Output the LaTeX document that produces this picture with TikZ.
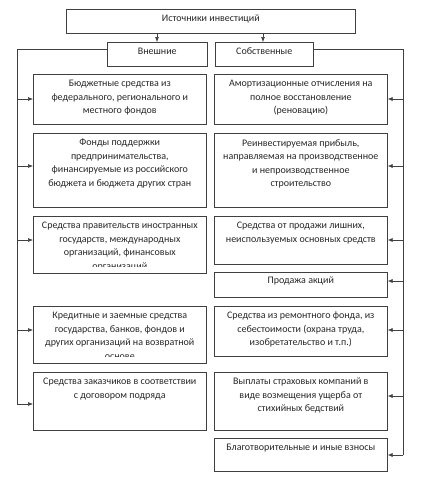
\documentclass[tikz,border=0pt]{standalone}
\usepackage{fontspec}
\setmainfont{Carlito}
\usetikzlibrary{arrows.meta}
\begin{document}
\begin{tikzpicture}[x=1pt,y=-1pt,
  box/.style={draw=black!75, line width=0.6pt, anchor=north west, inner sep=0pt},
  lbox/.style={box, minimum width=173pt},
  rbox/.style={box, minimum width=173pt},
  txt/.style={anchor=north, align=center, inner sep=0pt, font=\fontsize{10}{13.5}\selectfont, text=black!85},
  conn/.style={draw=black!75, line width=0.6pt},
  arr/.style={conn, -{Latex[length=5pt,width=4pt]}}]
\useasboundingbox (0,0) rectangle (422,480);
% top
\node[box, minimum width=289pt, minimum height=24pt] (top) at (66,9) {};
\node[txt] (topt) at ([yshift=-5.5]top.north) {Источники инвестиций};
\node[box, minimum width=100pt, minimum height=24pt] (ext) at (107,42) {};
\node[txt] (extt) at ([yshift=-5.5]ext.north) {Внешние};
\node[box, minimum width=98pt, minimum height=24pt] (own) at (215,42) {};
\node[txt] (ownt) at ([yshift=-5.5]own.north) {Собственные};
% left boxes
\node[lbox, minimum height=50pt] (l1) at (33,74) {};
\node[txt] (l1t) at ([yshift=-6]l1.north) {Бюджетные средства из\\федерального, регионального и\\местного фондов};
\node[lbox, minimum height=74pt] (l2) at (33,133) {};
\node[txt] (l2t) at ([yshift=-6]l2.north) {Фонды поддержки\\предпринимательства,\\финансируемые из российского\\бюджета и бюджета других стран};
\node[lbox, minimum height=57pt] (l3) at (33,216) {};
\begin{scope}
\clip ([yshift=-4]l3.north west) rectangle ([yshift=7]l3.south east);
\node[txt] (l3t) at ([yshift=-6]l3.north) {Средства правительств иностранных\\государств, международных\\организаций, финансовых\\организаций};
\end{scope}
\node[lbox, minimum height=57pt] (l4) at (33,306) {};
\begin{scope}
\clip ([yshift=-4]l4.north west) rectangle ([yshift=7]l4.south east);
\node[txt] (l4t) at ([yshift=-6]l4.north) {Кредитные и заемные средства\\государства, банков, фондов и\\других организаций на возвратной\\основе};
\end{scope}
\node[lbox, minimum height=58pt] (l5) at (33,372) {};
\node[txt] (l5t) at ([yshift=-6]l5.north) {Средства заказчиков в соответствии\\с договором подряда};
% right boxes
\node[rbox, minimum height=50pt] (r1) at (214,74) {};
\node[txt] (r1t) at ([yshift=-6]r1.north) {Амортизационные отчисления на\\полное восстановление\\(реновацию)};
\node[rbox, minimum height=74pt] (r2) at (214,133) {};
\node[txt] (r2t) at ([yshift=-6]r2.north) {Реинвестируемая прибыль,\\направляемая на производственное\\и непроизводственное\\строительство};
\node[rbox, minimum height=48pt] (r3) at (214,216) {};
\node[txt] (r3t) at ([yshift=-6]r3.north) {Средства от продажи лишних,\\неиспользуемых основных средств};
\node[rbox, minimum height=25pt] (r4) at (214,272) {};
\node[txt] (r4t) at ([yshift=-4.5]r4.north) {Продажа акций};
\node[rbox, minimum height=50pt] (r5) at (214,306) {};
\node[txt] (r5t) at ([yshift=-6]r5.north) {Средства из ремонтного фонда, из\\себестоимости (охрана труда,\\изобретательство и т.п.)};
\node[rbox, minimum height=58pt] (r6) at (214,372) {};
\node[txt] (r6t) at ([yshift=-6]r6.north) {Выплаты страховых компаний в\\виде возмещения ущерба от\\стихийных бедствий};
\node[rbox, minimum height=33pt] (r7) at (214,438) {};
\node[txt] (r7t) at ([yshift=-6]r7.north) {Благотворительные и иные взносы};
% connectors
\draw[arr] (top.south -| 157,0) -- (ext.north -| 157,0);
\draw[arr] (top.south -| 263,0) -- (own.north -| 263,0);
\coordinate (lt) at (17,49);
\coordinate (rt) at (403,49);
\coordinate (lb) at (17,404);
\coordinate (rb) at (403,455);
\draw[conn] (ext.west |- lt) -- (lt) -- (lb);
\draw[conn] (own.east |- rt) -- (rt) -- (rb);
\draw[arr] (lt |- 0,99) -- (l1.west |- 0,99);
\draw[arr] (lt |- 0,166) -- (l2.west |- 0,166);
\draw[arr] (lt |- 0,240) -- (l3.west |- 0,240);
\draw[arr] (lt |- 0,330) -- (l4.west |- 0,330);
\draw[arr] (lb) -- (l5.west |- lb);
\draw[arr] (rt |- 0,99) -- (r1.east |- 0,99);
\draw[arr] (rt |- 0,166) -- (r2.east |- 0,166);
\draw[arr] (rt |- 0,240) -- (r3.east |- 0,240);
\draw[arr] (rt |- 0,281) -- (r4.east |- 0,281);
\draw[arr] (rt |- 0,330) -- (r5.east |- 0,330);
\draw[arr] (rt |- 0,396) -- (r6.east |- 0,396);
\draw[arr] (rb) -- (r7.east |- rb);
\end{tikzpicture}
\end{document}
